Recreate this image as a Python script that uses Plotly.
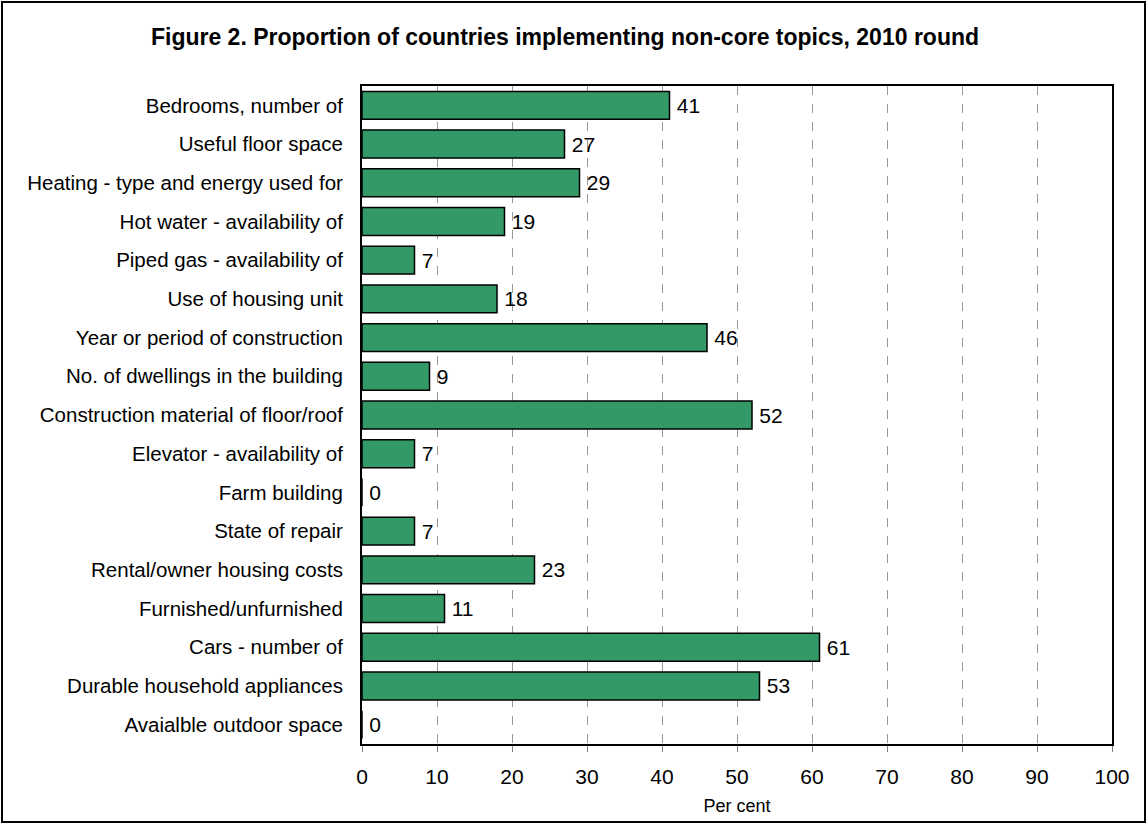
import plotly.graph_objects as go

categories = [
    "Bedrooms, number of",
    "Useful floor space",
    "Heating - type and energy used for",
    "Hot water - availability of",
    "Piped gas - availability of",
    "Use of housing unit",
    "Year or period of construction",
    "No. of dwellings in the building",
    "Construction material of floor/roof",
    "Elevator - availability of",
    "Farm building",
    "State of repair",
    "Rental/owner housing costs",
    "Furnished/unfurnished",
    "Cars - number of",
    "Durable household appliances",
    "Avaialble outdoor space",
]
values = [41, 27, 29, 19, 7, 18, 46, 9, 52, 7, 0, 7, 23, 11, 61, 53, 0]
x_ticks = [0, 10, 20, 30, 40, 50, 60, 70, 80, 90, 100]

W, H = 1148, 825
L, R, T, B = 362, 1112, 86, 744

FONT = "Liberation Sans, Arial, sans-serif"

fig = go.Figure(go.Bar(
    y=categories,
    x=values,
    orientation="h",
    marker=dict(color="#339966", line=dict(color="#000000", width=1.5)),
    text=["\u2009" + str(v) for v in values],
    textposition="outside",
    textfont=dict(family=FONT, size=21, color="#000"),
    cliponaxis=False,
))

def px_x(p):
    return (p - L) / (R - L)

def px_y(p):
    return (B - p) / (B - T)

fig.update_layout(
    width=W, height=H,
    margin=dict(l=L, r=W - R, t=T, b=H - B),
    paper_bgcolor="white",
    plot_bgcolor="white",
    bargap=0.28,
    showlegend=False,
    font=dict(family=FONT, size=21, color="#000"),
    title=dict(
        text="<b>Figure 2. Proportion of countries implementing non-core topics, 2010 round</b>",
        x=565 / W, xanchor="center", xref="container",
        y=1 - 37 / H, yanchor="middle", yref="container",
        font=dict(size=23, color="#000"),
    ),
    xaxis=dict(
        range=[0, 100],
        tickvals=x_ticks,
        showgrid=True,
        gridcolor="#999999",
        griddash="dash",
        gridwidth=1,
        ticks="outside",
        ticklen=6,
        tickcolor="#808080",
        tickfont=dict(size=21),
        ticklabelstandoff=7,
        showline=True,
        linecolor="#000",
        linewidth=2,
        mirror=True,
        zeroline=False,
        title=dict(text="Per cent", font=dict(size=18), standoff=12),
    ),
    yaxis=dict(
        autorange="reversed",
        showgrid=False,
        ticks="",
        ticklabelstandoff=13,
        tickfont=dict(size=20.5),
        showline=True,
        linecolor="#000",
        linewidth=2,
        mirror=True,
    ),
    shapes=[dict(
        type="rect", xref="paper", yref="paper",
        x0=px_x(2), x1=px_x(1145), y0=px_y(822), y1=px_y(2),
        line=dict(color="#000", width=2), fillcolor="rgba(0,0,0,0)", layer="below",
    )],
)

fig.write_html(
    "out.html",
    config={"displayModeBar": False},
    post_script="document.body.style.margin='0';document.body.style.padding='0';",
)
